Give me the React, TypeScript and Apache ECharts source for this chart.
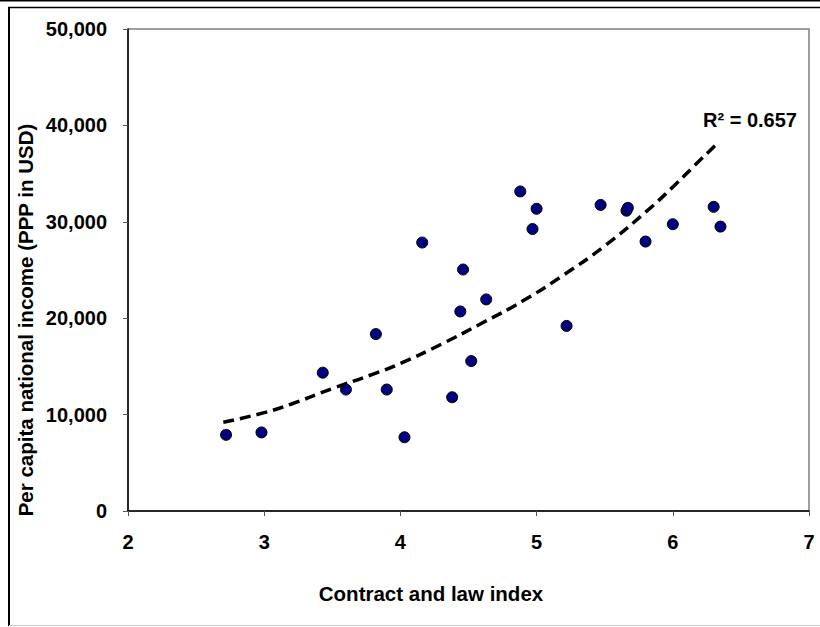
import React, { useEffect, useRef } from "react";
import * as echarts from "echarts";

const xTicks = [2, 3, 4, 5, 6, 7];
const yTicks = [0, 10000, 20000, 30000, 40000, 50000];

const contractIndex = [
  2.72, 2.98, 3.43, 3.6, 3.82, 3.9, 4.03, 4.16, 4.38, 4.44, 4.46, 4.52,
  4.63, 4.88, 4.97, 5.0, 5.22, 5.47, 5.66, 5.67, 5.8, 6.0, 6.3, 6.35,
];
const income = [
  7900, 8150, 14350, 12600, 18350, 12600, 7650, 27850, 11800, 20700, 25050,
  15550, 21950, 33150, 29250, 31350, 19200, 31750, 31150, 31450, 27950,
  29750, 31550, 29500,
];

const trendX = [2.7, 3.0, 3.2, 3.5, 3.8, 4.0, 4.3, 4.6, 4.9, 5.2, 5.5, 5.8, 6.0, 6.15, 6.31];
const trendY = [9200, 10200, 11100, 12700, 14200, 15300, 17300, 19500, 21800, 24500, 27500, 31000, 33600, 35700, 37900];

const xTitle = "Contract and law index";
const yTitle = "Per capita national income (PPP in USD)";
const r2Text = "R² = 0.657";

const FONT = "'Liberation Sans', Arial, sans-serif";

export default function App() {
  const ref = useRef<HTMLDivElement>(null);

  useEffect(() => {
    document.body.style.margin = "0";
    if (!ref.current) return;
    const chart = echarts.init(ref.current, undefined, { renderer: "svg" });

    const points = contractIndex.map((x, i) => [x, income[i]]);
    const trend = trendX.map((x, i) => [x, trendY[i]]);

    chart.setOption({
      animation: false,
      backgroundColor: "#fff",
      grid: {
        left: 128,
        top: 29,
        right: 11,
        bottom: 116,
        show: true,
        borderColor: "#808080",
        borderWidth: 1.5,
        backgroundColor: "#fff",
      },
      xAxis: {
        type: "value",
        min: xTicks[0],
        max: xTicks[xTicks.length - 1],
        interval: 1,
        splitLine: { show: false },
        axisLine: { show: true, onZero: false, lineStyle: { color: "#000", width: 1.5 } },
        axisTick: { show: true, length: 5, lineStyle: { color: "#555", width: 1 } },
        axisLabel: {
          margin: 21,
          color: "#000",
          fontSize: 20,
          fontWeight: "bold",
          fontFamily: FONT,
        },
      },
      yAxis: {
        type: "value",
        min: yTicks[0],
        max: yTicks[yTicks.length - 1],
        interval: 10000,
        splitLine: { show: false },
        axisLine: { show: true, onZero: false, lineStyle: { color: "#000", width: 1.5 } },
        axisTick: { show: true, length: 5, lineStyle: { color: "#555", width: 1 } },
        axisLabel: {
          margin: 21,
          color: "#000",
          fontSize: 20,
          fontWeight: "bold",
          fontFamily: FONT,
          formatter: (v: number) => v.toLocaleString("en-US"),
        },
      },
      series: [
        {
          type: "scatter",
          data: points,
          symbol: "circle",
          symbolSize: 11,
          itemStyle: { color: "#000080", borderColor: "#000", borderWidth: 1, opacity: 1 },
          z: 2,
        },
        {
          type: "line",
          data: trend,
          smooth: true,
          showSymbol: false,
          symbol: "none",
          lineStyle: { color: "#000", width: 3.5, type: [11, 6], cap: "butt" },
          z: 3,
        },
      ],
      graphic: [
        { type: "line", shape: { x1: 0, y1: 0.7, x2: 820, y2: 0.7 }, style: { stroke: "#000", lineWidth: 1.5 } },
        { type: "line", shape: { x1: 8, y1: 7.5, x2: 820, y2: 7.5 }, style: { stroke: "#000", lineWidth: 1.5 } },
        { type: "line", shape: { x1: 9, y1: 7, x2: 9, y2: 626 }, style: { stroke: "#000", lineWidth: 2 } },
        { type: "line", shape: { x1: 9, y1: 625.5, x2: 820, y2: 625.5 }, style: { stroke: "#c8c8c8", lineWidth: 1 } },
        {
          type: "text",
          x: 431,
          y: 593,
          style: {
            text: xTitle,
            fill: "#000",
            font: `bold 20.5px ${FONT}`,
            textAlign: "center",
            textVerticalAlign: "middle",
          },
        },
        {
          type: "text",
          x: 25,
          y: 320,
          rotation: Math.PI / 2,
          style: {
            text: yTitle,
            fill: "#000",
            font: `bold 20.5px ${FONT}`,
            textAlign: "center",
            textVerticalAlign: "middle",
          },
        },
        {
          type: "text",
          x: 703,
          y: 120,
          style: {
            text: r2Text,
            fill: "#000",
            font: `bold 20px ${FONT}`,
            textAlign: "left",
            textVerticalAlign: "middle",
          },
        },
      ],
    });

    return () => chart.dispose();
  }, []);

  return <div ref={ref} style={{ width: 820, height: 627 }} />;
}
